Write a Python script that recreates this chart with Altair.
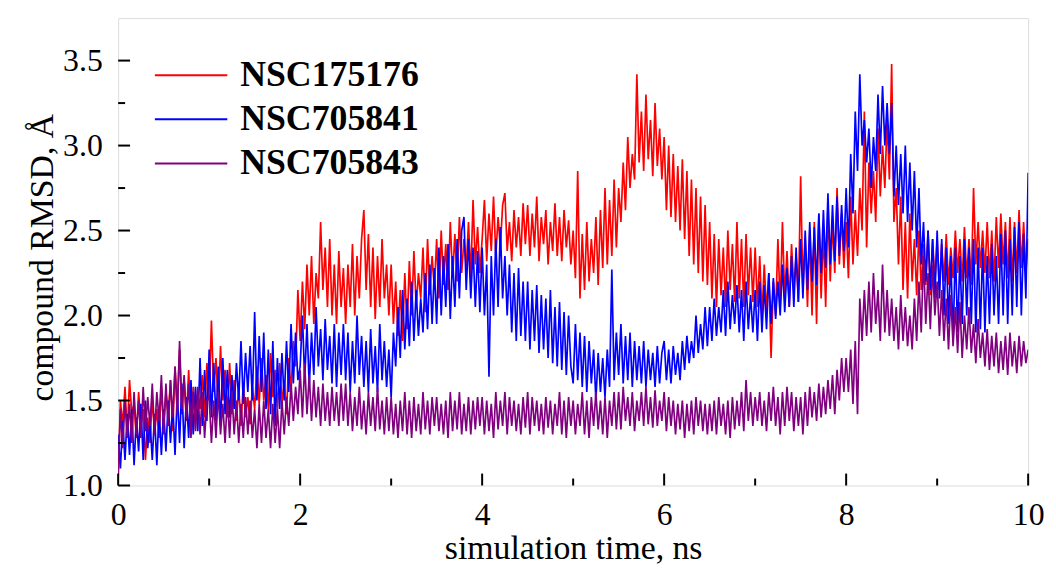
import altair as alt
import numpy as np
import pandas as pd

# sample times (ns), every 0.025 ns
time_ns = np.round(np.arange(0, 401) * 0.025, 3)

series_names = ["NSC175176", "NSC705841", "NSC705843"]
series_colors = ["#ff0000", "#0000ff", "#800080"]

# one row = 0.5 ns (20 samples)
nsc175176 = [
    1.05, 1.50, 1.35, 1.58, 1.30, 1.62, 1.42, 1.48, 1.28, 1.55, 1.35, 1.45, 1.15, 1.40, 1.25, 1.52, 1.30, 1.45, 1.28, 1.58,
    1.35, 1.55, 1.40, 1.62, 1.32, 1.70, 1.45, 1.80, 1.42, 1.62, 1.38, 1.68, 1.35, 1.58, 1.40, 1.55, 1.45, 1.65, 1.40, 1.72,
    1.50, 1.97, 1.55, 1.75, 1.45, 1.82, 1.50, 1.68, 1.40, 1.72, 1.42, 1.62, 1.38, 1.58, 1.35, 1.60, 1.40, 1.52, 1.36, 1.58,
    1.45, 1.70, 1.48, 1.75, 1.50, 1.65, 1.45, 1.78, 1.52, 1.68, 1.45, 1.72, 1.48, 1.62, 1.42, 1.75, 1.55, 1.85, 1.70, 2.15,
    1.85, 2.20, 1.92, 2.30, 2.00, 2.35, 1.95, 2.25, 2.10, 2.55, 2.15, 2.40, 2.05, 2.45, 2.00, 2.30, 1.95, 2.38, 2.05, 2.28,
    1.95, 2.30, 2.05, 2.42, 2.00, 2.35, 2.10, 2.45, 2.62, 2.15, 2.48, 2.05, 2.40, 1.98, 2.35, 2.05, 2.45, 2.10, 2.30, 2.00,
    2.30, 1.95, 2.20, 1.88, 2.15, 1.85, 2.25, 1.92, 2.32, 2.00, 2.38, 2.05, 2.25, 2.10, 2.40, 2.02, 2.45, 2.12, 2.35, 2.15,
    2.45, 2.10, 2.50, 2.18, 2.42, 2.15, 2.55, 2.22, 2.48, 2.20, 2.58, 2.25, 2.45, 2.28, 2.55, 2.22, 2.68, 2.30, 2.52, 2.25,
    2.45, 2.68, 2.32, 2.60, 2.38, 2.70, 2.35, 2.58, 2.40, 2.65, 2.72, 2.38, 2.55, 2.32, 2.62, 2.40, 2.58, 2.35, 2.66, 2.42,
    2.65, 2.35, 2.60, 2.40, 2.70, 2.32, 2.58, 2.42, 2.62, 2.30, 2.55, 2.38, 2.66, 2.35, 2.58, 2.32, 2.62, 2.40, 2.56, 2.30,
    2.50, 2.22, 2.85, 2.10, 2.48, 2.15, 2.55, 2.20, 2.45, 2.25, 2.58, 2.18, 2.62, 2.28, 2.75, 2.30, 2.68, 2.35, 2.80, 2.40,
    2.75, 2.55, 2.90, 2.62, 3.05, 2.75, 2.95, 2.80, 3.42, 2.90, 3.20, 2.85, 3.30, 2.92, 3.15, 2.82, 3.25, 2.88, 3.10, 2.80,
    3.05, 2.62, 3.00, 2.58, 2.95, 2.55, 2.88, 2.50, 2.92, 2.45, 2.85, 2.35, 2.80, 2.30, 2.75, 2.25, 2.70, 2.20, 2.65, 2.18,
    2.55, 2.10, 2.48, 2.05, 2.45, 2.12, 2.40, 2.05, 2.50, 2.15, 2.42, 2.08, 2.55, 2.10, 2.45, 2.05, 2.48, 2.12, 2.40, 2.08,
    2.40, 2.05, 2.35, 2.00, 2.30, 2.02, 2.25, 1.75, 2.20, 2.00, 2.45, 2.05, 2.55, 2.10, 2.38, 2.05, 2.42, 2.15, 2.35, 2.08,
    2.82, 2.15, 2.45, 2.05, 2.50, 2.00, 2.55, 1.95, 2.60, 2.10, 2.50, 2.05, 2.65, 2.20, 2.55, 2.25, 2.75, 2.30, 2.60, 2.28,
    2.55, 2.22, 2.70, 2.30, 2.62, 2.35, 2.75, 2.50, 3.20, 2.40, 2.90, 2.60, 2.85, 2.55, 3.10, 2.70, 3.00, 2.75, 3.15, 2.80,
    3.48, 2.55, 2.75, 2.30, 2.70, 2.15, 2.55, 2.10, 2.60, 2.20, 2.45, 2.12, 2.50, 2.15, 2.42, 2.18, 2.50, 2.12, 2.45, 2.20,
    2.45, 2.15, 2.42, 2.20, 2.48, 2.18, 2.40, 2.22, 2.50, 2.25, 2.45, 2.20, 2.52, 2.22, 2.45, 2.18, 2.75, 2.30, 2.55, 2.28,
    2.50, 2.25, 2.55, 2.22, 2.50, 2.20, 2.58, 2.28, 2.60, 2.30, 2.55, 2.22, 2.58, 2.20, 2.55, 2.25, 2.62, 2.28, 2.55, 2.25,
    2.45,
]

nsc705841 = [
    1.30, 1.10, 1.38, 1.15, 1.42, 1.18, 1.45, 1.12, 1.40, 1.20, 1.48, 1.15, 1.50, 1.22, 1.38, 1.15, 1.42, 1.12, 1.45, 1.18,
    1.45, 1.20, 1.50, 1.25, 1.48, 1.18, 1.55, 1.25, 1.60, 1.22, 1.52, 1.28, 1.62, 1.30, 1.58, 1.32, 1.75, 1.35, 1.68, 1.38,
    1.80, 1.40, 1.72, 1.38, 1.70, 1.35, 1.75, 1.42, 1.68, 1.40, 1.65, 1.45, 1.72, 1.50, 1.85, 1.48, 1.78, 1.55, 1.82, 1.50,
    2.02, 1.50, 1.88, 1.55, 1.90, 1.45, 1.80, 1.42, 1.85, 1.35, 1.75, 1.45, 1.78, 1.50, 1.85, 1.55, 1.95, 1.60, 1.90, 1.62,
    1.70, 2.00, 1.62, 1.95, 1.58, 1.90, 1.65, 2.05, 1.70, 1.92, 1.62, 1.98, 1.68, 1.88, 1.60, 1.95, 1.58, 1.90, 1.65, 1.95,
    1.62, 1.90, 1.55, 1.85, 1.60, 2.00, 1.65, 1.88, 1.58, 1.85, 1.55, 1.92, 1.60, 1.82, 1.55, 1.95, 1.62, 1.85, 1.58, 1.80,
    1.52, 1.90, 1.70, 2.05, 1.75, 2.15, 1.80, 2.10, 1.82, 2.20, 1.85, 2.15, 1.88, 2.10, 1.90, 2.25, 1.92, 2.30, 1.95, 2.28,
    1.95, 2.40, 2.00, 2.35, 2.05, 2.42, 1.98, 2.35, 2.05, 2.45, 2.10, 2.50, 2.58, 2.15, 2.45, 2.10, 2.40, 2.05, 2.38, 2.02,
    2.40, 2.00, 2.30, 1.64, 2.35, 2.00, 2.45, 2.05, 2.52, 2.10, 2.35, 2.00, 2.30, 1.90, 2.25, 1.85, 2.28, 1.88, 2.20, 1.85,
    2.20, 1.80, 2.15, 1.85, 2.18, 1.78, 2.12, 1.80, 2.10, 1.75, 2.15, 1.72, 2.05, 1.70, 2.08, 1.68, 2.02, 1.65, 2.00, 1.70,
    1.60, 1.95, 1.62, 1.90, 1.58, 1.88, 1.55, 1.85, 1.60, 1.80, 1.50, 1.78, 1.55, 1.75, 1.52, 1.80, 1.58, 2.27, 1.62, 1.90,
    1.65, 1.95, 1.60, 1.88, 1.62, 1.90, 1.58, 1.85, 1.62, 1.82, 1.60, 1.85, 1.58, 1.80, 1.62, 1.78, 1.58, 1.82, 1.60, 1.78,
    1.85, 1.62, 1.80, 1.60, 1.82, 1.65, 1.78, 1.62, 1.85, 1.68, 1.88, 1.72, 1.85, 1.75, 2.00, 1.78, 1.95, 1.80, 2.05, 1.82,
    2.05, 1.85, 2.10, 1.88, 2.05, 1.90, 2.15, 1.88, 2.20, 1.92, 2.12, 1.95, 2.18, 1.90, 2.15, 1.85, 2.20, 1.92, 2.12, 1.90,
    2.15, 1.85, 2.20, 1.90, 2.18, 1.92, 2.25, 1.95, 2.22, 1.98, 2.20, 2.00, 2.30, 2.02, 2.28, 2.05, 2.35, 2.05, 2.40, 2.08,
    2.45, 2.10, 2.50, 2.15, 2.55, 2.20, 2.52, 2.18, 2.60, 2.25, 2.62, 2.28, 2.72, 2.30, 2.65, 2.32, 2.70, 2.35, 2.65, 2.38,
    2.75, 2.40, 2.95, 2.60, 3.20, 2.85, 3.42, 3.00, 3.15, 2.90, 3.10, 2.75, 3.05, 2.85, 3.30, 2.95, 3.35, 3.00, 3.25, 2.95,
    3.25, 2.70, 3.00, 2.65, 2.95, 2.60, 3.00, 2.55, 2.90, 2.50, 2.85, 2.40, 2.75, 2.30, 2.55, 2.20, 2.50, 2.15, 2.45, 2.10,
    2.50, 2.10, 2.45, 2.00, 2.40, 1.95, 2.35, 1.85, 2.40, 1.90, 2.35, 1.95, 2.45, 2.00, 2.40, 1.95, 2.45, 1.90, 2.40, 1.92,
    2.40, 1.90, 2.35, 1.95, 2.42, 2.00, 2.35, 1.95, 2.48, 2.00, 2.50, 1.95, 2.45, 2.00, 2.52, 2.05, 2.55, 2.00, 2.48, 2.10,
    2.84,
]

nsc705843 = [
    1.05, 1.45, 1.22, 1.50, 1.28, 1.48, 1.25, 1.55, 1.30, 1.50, 1.28, 1.58, 1.32, 1.52, 1.35, 1.60, 1.30, 1.55, 1.38, 1.65,
    1.30, 1.60, 1.35, 1.62, 1.40, 1.70, 1.42, 1.85, 1.45, 1.65, 1.40, 1.60, 1.28, 1.55, 1.32, 1.58, 1.30, 1.55, 1.28, 1.50,
    1.52, 1.25, 1.50, 1.28, 1.55, 1.30, 1.48, 1.25, 1.52, 1.28, 1.55, 1.30, 1.50, 1.25, 1.48, 1.28, 1.52, 1.30, 1.50, 1.28,
    1.45, 1.22, 1.48, 1.25, 1.50, 1.28, 1.45, 1.22, 1.48, 1.25, 1.45, 1.22, 1.50, 1.30, 1.52, 1.35, 1.60, 1.38, 1.58, 1.42,
    1.68, 1.40, 1.72, 1.42, 1.65, 1.38, 1.62, 1.40, 1.58, 1.35, 1.60, 1.38, 1.55, 1.35, 1.58, 1.38, 1.55, 1.35, 1.60, 1.38,
    1.60, 1.35, 1.55, 1.32, 1.52, 1.35, 1.58, 1.33, 1.50, 1.30, 1.55, 1.35, 1.52, 1.32, 1.58, 1.33, 1.50, 1.30, 1.52, 1.32,
    1.52, 1.30, 1.48, 1.28, 1.50, 1.32, 1.55, 1.30, 1.50, 1.28, 1.52, 1.32, 1.48, 1.30, 1.55, 1.33, 1.50, 1.30, 1.52, 1.35,
    1.52, 1.32, 1.48, 1.30, 1.50, 1.28, 1.55, 1.32, 1.50, 1.33, 1.55, 1.30, 1.48, 1.32, 1.52, 1.30, 1.50, 1.33, 1.52, 1.35,
    1.52, 1.30, 1.50, 1.32, 1.48, 1.28, 1.55, 1.33, 1.50, 1.35, 1.55, 1.30, 1.52, 1.35, 1.50, 1.32, 1.48, 1.30, 1.52, 1.34,
    1.55, 1.30, 1.52, 1.35, 1.50, 1.32, 1.48, 1.30, 1.52, 1.34, 1.50, 1.30, 1.48, 1.35, 1.55, 1.30, 1.50, 1.28, 1.52, 1.35,
    1.50, 1.30, 1.48, 1.35, 1.55, 1.30, 1.50, 1.28, 1.52, 1.35, 1.55, 1.33, 1.50, 1.30, 1.52, 1.28, 1.50, 1.35, 1.55, 1.33,
    1.55, 1.33, 1.58, 1.38, 1.52, 1.35, 1.55, 1.32, 1.50, 1.38, 1.55, 1.35, 1.58, 1.36, 1.52, 1.34, 1.56, 1.35, 1.50, 1.38,
    1.55, 1.32, 1.52, 1.35, 1.50, 1.30, 1.48, 1.33, 1.50, 1.28, 1.48, 1.32, 1.50, 1.30, 1.52, 1.35, 1.50, 1.32, 1.48, 1.30,
    1.48, 1.32, 1.50, 1.30, 1.52, 1.35, 1.48, 1.30, 1.50, 1.28, 1.52, 1.33, 1.50, 1.35, 1.55, 1.32, 1.62, 1.38, 1.55, 1.35,
    1.52, 1.38, 1.55, 1.35, 1.50, 1.32, 1.55, 1.38, 1.58, 1.35, 1.52, 1.30, 1.55, 1.35, 1.58, 1.38, 1.55, 1.32, 1.52, 1.35,
    1.52, 1.30, 1.55, 1.35, 1.58, 1.40, 1.55, 1.38, 1.60, 1.40, 1.58, 1.42, 1.62, 1.45, 1.65, 1.42, 1.68, 1.50, 1.75, 1.55,
    1.75, 1.55, 1.80, 1.48, 1.85, 1.42, 2.10, 1.85, 2.15, 1.88, 2.20, 1.90, 2.25, 1.95, 2.15, 1.85, 2.30, 1.90, 2.15, 1.88,
    2.10, 1.85, 2.05, 1.80, 2.12, 1.85, 2.05, 1.82, 2.00, 1.80, 2.10, 1.85, 2.20, 1.90, 2.35, 1.95, 2.25, 1.92, 2.30, 2.00,
    2.20, 1.88, 2.15, 1.85, 2.10, 1.80, 2.12, 1.82, 2.05, 1.78, 2.08, 1.75, 2.00, 1.80, 2.05, 1.78, 1.95, 1.72, 1.98, 1.75,
    1.90, 1.70, 1.92, 1.68, 1.88, 1.70, 1.90, 1.66, 1.85, 1.68, 1.88, 1.65, 1.90, 1.70, 1.85, 1.66, 1.88, 1.70, 1.85, 1.72,
    1.80,
]

x_major = [0, 2, 4, 6, 8, 10]
x_minor = [1, 3, 5, 7, 9]
y_major = [1.0, 1.5, 2.0, 2.5, 3.0, 3.5]
y_minor = [1.25, 1.75, 2.25, 2.75, 3.25]

assert len(nsc175176) == len(time_ns), len(nsc175176)
assert len(nsc705841) == len(time_ns), len(nsc705841)
assert len(nsc705843) == len(time_ns), len(nsc705843)

W, H = 917, 471
FONT = "Liberation Serif"

x_scale = alt.Scale(domain=[0, 10], nice=False, zero=False)
y_scale = alt.Scale(domain=[1.0, 3.75], nice=False, zero=False)
color_scale = alt.Scale(domain=series_names, range=series_colors)

# legend stroke drawn as a custom horizontal path (twice the nominal symbol width)
legend = alt.Legend(
    title=None, orient="none", legendX=54, legendY=38, padding=0,
    symbolType="M-2,0H2", symbolSize=1332, symbolStrokeWidth=2,
    labelFont=FONT, labelFontSize=36, labelFontWeight="bold", labelColor="black",
    labelOffset=30, labelLimit=0, rowPadding=6.5, direction="vertical",
)

x_axis = alt.Axis(
    values=x_major, ticks=False, domain=False, grid=False, labelFlush=False,
    labelFont=FONT, labelFontSize=32, labelColor="black", labelPadding=14,
    title="simulation time, ns", titleFont=FONT, titleFontSize=34, titleFontWeight="normal",
    titleColor="black", titleY=64, titleBaseline="middle",
)
y_axis = alt.Axis(
    values=y_major, format=".1f", ticks=False, domain=False, grid=False,
    labelFont=FONT, labelFontSize=32, labelColor="black", labelPadding=16,
    title="compound RMSD, Å", titleFont=FONT, titleFontSize=34, titleFontWeight="normal",
    titleColor="black", titleX=-76, titleY=241, titleBaseline="middle", titleAlign="center",
)


def series_layer(name, values):
    df = pd.DataFrame({"t": time_ns, "rmsd": values, "series": name})
    return alt.Chart(df).mark_line(strokeWidth=1.7, clip=True).encode(
        x=alt.X("t:Q", scale=x_scale, axis=x_axis),
        y=alt.Y("rmsd:Q", scale=y_scale, axis=y_axis),
        color=alt.Color("series:N", scale=color_scale, legend=legend),
    )


layers = [
    series_layer(series_names[0], nsc175176),
    series_layer(series_names[1], nsc705841),
    series_layer(series_names[2], nsc705843),
]

xt_major = alt.Chart(pd.DataFrame({"t": x_major})).mark_rule(color="black", strokeWidth=2).encode(
    x=alt.X("t:Q", scale=x_scale, axis=x_axis), y=alt.value(H), y2=alt.value(H - 12))
xt_minor = alt.Chart(pd.DataFrame({"t": x_minor})).mark_rule(color="black", strokeWidth=2).encode(
    x=alt.X("t:Q", scale=x_scale, axis=x_axis), y=alt.value(H), y2=alt.value(H - 7))
yt_major = alt.Chart(pd.DataFrame({"rmsd": y_major})).mark_rule(color="black", strokeWidth=2).encode(
    y=alt.Y("rmsd:Q", scale=y_scale, axis=y_axis), x=alt.value(0), x2=alt.value(12))
yt_minor = alt.Chart(pd.DataFrame({"rmsd": y_minor})).mark_rule(color="black", strokeWidth=2).encode(
    y=alt.Y("rmsd:Q", scale=y_scale, axis=y_axis), x=alt.value(0), x2=alt.value(7))

chart = alt.layer(*layers, xt_major, xt_minor, yt_major, yt_minor).properties(
    width=W, height=H,
    autosize=alt.AutoSizeParams(type="none"),
    padding={"left": 111, "top": 8, "right": 20, "bottom": 84},
).configure_view(stroke="black", strokeWidth=2.5).configure(background="white")

chart.save("out.html", embed_options={"renderer": "svg", "actions": False})
